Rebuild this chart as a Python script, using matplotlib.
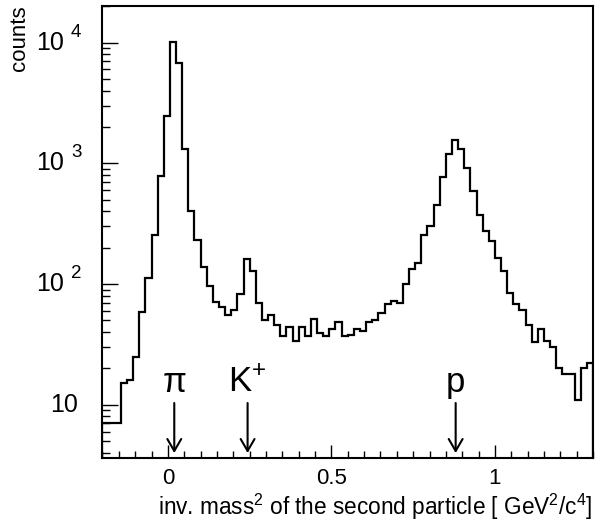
import numpy as np
import matplotlib
matplotlib.use("Agg")
import matplotlib.pyplot as plt
from matplotlib.ticker import MultipleLocator, LogLocator, NullFormatter, FuncFormatter
import matplotlib.transforms as mtransforms

plt.rcParams['font.family'] = ['Liberation Sans', 'DejaVu Sans']
plt.rcParams['mathtext.fontset'] = 'custom'
plt.rcParams['mathtext.rm'] = 'Liberation Sans'
plt.rcParams['mathtext.it'] = 'Liberation Sans'

# histogram: 80 bins from -0.2 to 1.3 GeV^2/c^4
x_min, x_max, n_bins = -0.2, 1.3, 80
counts = [7, 7, 7, 15, 16, 25, 59, 112, 255, 791,
          2455, 10190, 6745, 1315, 405, 232, 138, 97, 71, 65,
          55, 61, 83, 162, 129, 69, 50, 55, 46, 37,
          44, 34, 44, 37, 51, 39, 37, 42, 48, 37,
          38, 42, 41, 48, 50, 58, 68, 73, 70, 100,
          133, 150, 256, 301, 451, 776, 1196, 1563, 1309, 921,
          594, 373, 277, 229, 165, 127, 84, 68, 61, 46,
          33, 42, 34, 30, 20, 18, 18, 11, 20, 22]

# particle mass squared (GeV^2/c^4)
particles = ["π", "K$^{+}$", "p"]
mass2 = [0.0195, 0.2437, 0.880]

fig = plt.figure(figsize=(5.96, 5.28), dpi=100)
ax = fig.add_axes([102.5/596, 1 - 458/528, 490.5/596, 452/528])

edges = np.linspace(x_min, x_max, n_bins + 1)
ax.stairs(counts, edges, baseline=1, color="black", lw=1.6)

ax.set_yscale("log")
ax.set_xlim(x_min, x_max)
ax.set_ylim(3.62, 2.01e4)

for s in ax.spines.values():
    s.set_linewidth(1.5)

# x ticks
ax.xaxis.set_major_locator(MultipleLocator(0.5))
ax.xaxis.set_minor_locator(MultipleLocator(0.05))
ax.xaxis.set_major_formatter(FuncFormatter(lambda v, p: "%g" % v))
ax.tick_params(axis="x", which="major", direction="in", length=9.4, width=1,
               labelsize=16, pad=7.5)
ax.tick_params(axis="x", which="minor", direction="in", length=4.7, width=1)

# y ticks (labels drawn by hand in ROOT style)
ax.yaxis.set_major_locator(LogLocator(base=10, numticks=10))
ax.yaxis.set_minor_locator(LogLocator(base=10, subs=np.arange(2, 10), numticks=20))
ax.yaxis.set_major_formatter(NullFormatter())
ax.yaxis.set_minor_formatter(NullFormatter())
ax.tick_params(axis="y", which="major", direction="in", length=11.5, width=1)
ax.tick_params(axis="y", which="minor", direction="in", length=5.8, width=1)

ytrans = mtransforms.blended_transform_factory(fig.transFigure, ax.transData)
for k in [1, 2, 3, 4]:
    if k == 1:
        fig.text(78/596, 10**k, "10", transform=ytrans, ha="right",
                 va="center", fontsize=18)
    else:
        fig.text(63.5/596, 10**k, "10", transform=ytrans, ha="right",
                 va="center", fontsize=18)
        t = fig.text(71/596, 10**k, str(k), transform=ytrans, ha="left",
                     va="center", fontsize=13.5)
        t.set_transform(ytrans + mtransforms.ScaledTranslation(0, 7.5/72, fig.dpi_scale_trans))

# axis titles
fig.text(20/596, 1 - 5/528, "counts", rotation=90, ha="center", va="top",
         fontsize=16)
fig.text(592/596, 1 - 515/528,
         "inv. mass$^{2}$ of the second particle [ GeV$^{2}$/c$^{4}$]",
         ha="right", va="baseline", fontsize=16.3)

# particle markers
xtrans = mtransforms.blended_transform_factory(ax.transData, ax.transAxes)
for name, m2 in zip(particles, mass2):
    ax.annotate("", xy=(m2, 0.011), xytext=(m2, 0.1217),
                xycoords=xtrans, textcoords=xtrans,
                arrowprops=dict(arrowstyle="->,head_length=0.43,head_width=0.25",
                                mutation_scale=20, lw=1.5, color="black",
                                shrinkA=0, shrinkB=0))
    ax.text(m2, 0.146, name, transform=xtrans, ha="center", va="baseline",
            fontsize=25)

fig.savefig("out.png", dpi=100)
